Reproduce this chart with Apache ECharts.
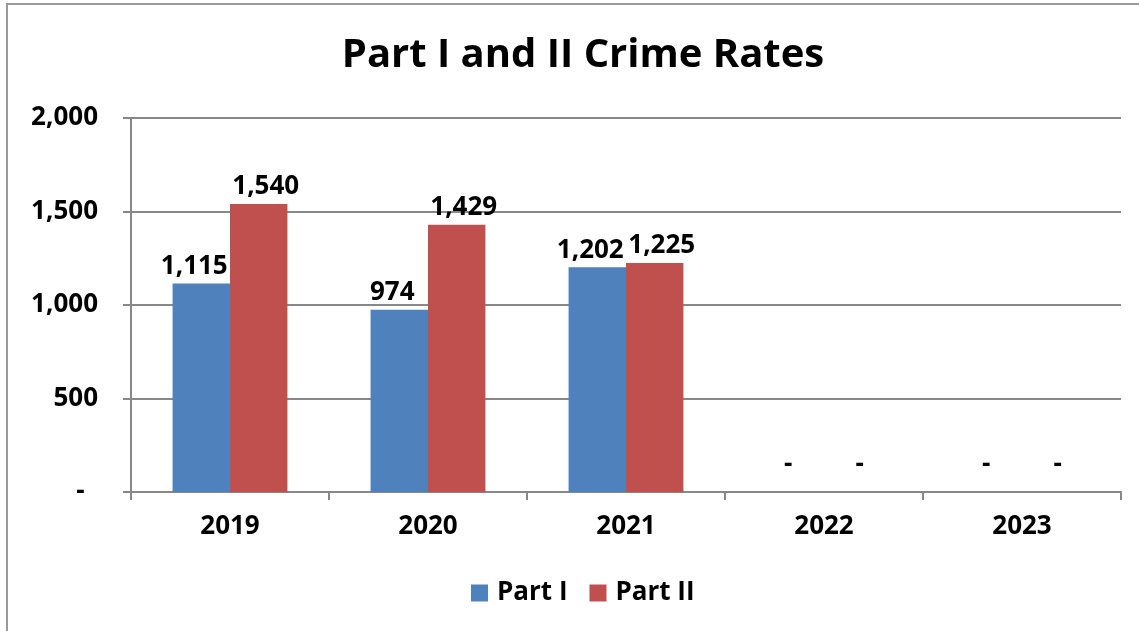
<!DOCTYPE html>
<html>
<head>
<meta charset="utf-8">
<script src="https://cdn.jsdelivr.net/npm/echarts@6/dist/echarts.min.js"></script>
<style>
html,body{margin:0;padding:0;background:#fff;}
#c{width:1139px;height:631px;}
</style>
</head>
<body>
<div id="c"></div>
<script>
const categories = ['2019', '2020', '2021', '2022', '2023'];
const partI = [1115, 974, 1202, 0, 0];
const partII = [1540, 1429, 1225, 0, 0];
const seriesNames = ['Part I', 'Part II'];
const yTicks = { min: 0, max: 2000, interval: 500 };

const FONT = '"Open Sans", "Noto Sans", sans-serif';
const fmt = v => v === 0 ? '-' : v.toLocaleString('en-US');

function makeSeries(name, values, color, dx) {
  return {
    name: name,
    type: 'bar',
    data: values.map(v => v === 0
      ? { value: v, label: { distance: 14 } }
      : v),
    barGap: '0%',
    barCategoryGap: '42%',
    itemStyle: { color: color },
    label: {
      show: true,
      position: 'top',
      distance: 4,
      offset: [dx, 0],
      color: '#000',
      fontFamily: FONT,
      fontWeight: 'bold',
      fontSize: 26,
      formatter: p => fmt(p.value)
    }
  };
}

const chart = echarts.init(document.getElementById('c'));
chart.setOption({
  animation: false,
  backgroundColor: '#fff',
  graphic: [{
    type: 'rect',
    shape: { x: 7, y: 4, width: 1200, height: 700 },
    style: { fill: 'none', stroke: '#9a9a9a', lineWidth: 2 },
    silent: true
  }],
  title: {
    text: 'Part I and II Crime Rates',
    left: 578,
    top: 31,
    textAlign: 'center',
    textStyle: { fontFamily: FONT, fontWeight: 'bold', fontSize: 40, color: '#000' }
  },
  legend: {
    data: seriesNames,
    bottom: 20,
    left: 466,
    itemWidth: 17,
    itemHeight: 17,
    itemGap: 22,
    icon: 'rect',
    textStyle: { fontFamily: FONT, fontWeight: 'bold', fontSize: 26, color: '#000', padding: [0, 0, 0, 4] }
  },
  grid: { left: 131, right: 18, top: 118, bottom: 139, containLabel: false },
  xAxis: {
    type: 'category',
    data: categories,
    axisLine: { lineStyle: { color: '#888', width: 2 } },
    axisTick: { show: true, alignWithLabel: false, length: 8, lineStyle: { color: '#888', width: 2 } },
    axisLabel: { fontFamily: FONT, fontWeight: 'bold', fontSize: 26, color: '#000', margin: 22 }
  },
  yAxis: {
    type: 'value',
    min: yTicks.min,
    max: yTicks.max,
    interval: yTicks.interval,
    axisLine: { show: true, lineStyle: { color: '#888', width: 2 } },
    axisTick: { show: true, length: 8, lineStyle: { color: '#888', width: 2 } },
    splitLine: { lineStyle: { color: '#888', width: 2 } },
    axisLabel: {
      fontFamily: FONT, fontWeight: 'bold', fontSize: 26, color: '#000', margin: 33,
      formatter: v => v === 0 ? '-  ' : v.toLocaleString('en-US')
    }
  },
  series: [
    makeSeries(seriesNames[0], partI, '#4F81BD', -7),
    makeSeries(seriesNames[1], partII, '#C0504D', 7)
  ]
});
</script>
</body>
</html>
